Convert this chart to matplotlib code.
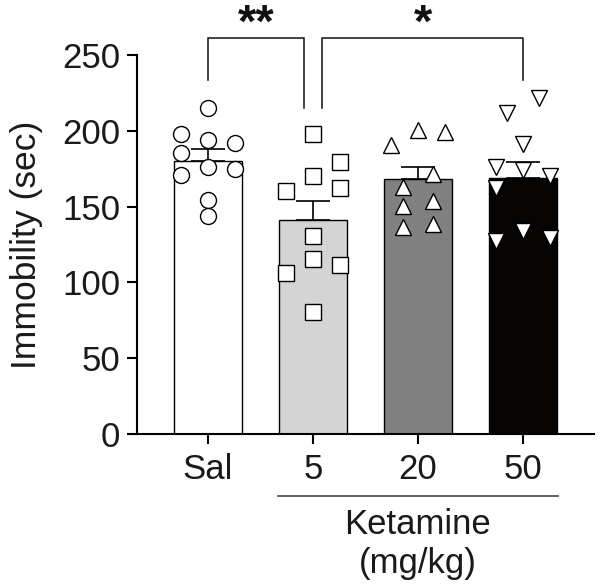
import matplotlib
matplotlib.use("Agg")
import matplotlib.pyplot as plt

plt.rcParams["font.family"] = ["Liberation Sans", "DejaVu Sans"]

# ---- data ----
groups = ["Sal", "5", "20", "50"]
means = [180, 141, 168, 169]
sems = [8, 12.5, 8, 10.5]

sal_pts = [215, 198, 194, 192, 185.5, 176, 175, 171, 154.4, 143.6]
k5_pts = [198, 179.4, 170, 162.3, 160.5, 130.7, 115.6, 106.4, 111.2, 80.5]
k20_pts = [200.4, 199.5, 190.6, 171.5, 162.7, 150.7, 154, 136.8, 138.2]
k50_pts = [221.5, 211.6, 191, 175.9, 174, 170, 162.3, 134.2, 127.2, 129.2]

# ---- layout: horizontal spread of the dots (in dot columns) ----
sal_cols = [0, -1, 0, 1, -1, 0, 1, -1, 0, 0]
k5_cols = [0, 1, 0, 1, -1, 0, 0, -1, 1, 0]
k20_cols = [0, 1, -1, 0.55, -0.55, -0.55, 0.55, -0.55, 0.55]
k50_cols = [0.6, -0.6, 0, -1, 0, 1, -1, 0, -1, 1]

bar_cols = ["#FFFFFF", "#D4D4D4", "#808080", "#070404"]
markers = ["o", "s", "^", "v"]
msizes = [11.5, 11, 11.5, 11.5]
STEP = 0.257
INK = "#1a1a1a"

fig = plt.figure(figsize=(6.0, 5.88), dpi=100)
ax = fig.add_axes([0.2283, 0.2619, 0.7617, 0.6446])

xs = range(len(groups))
ax.bar(xs, means, width=0.65, color=bar_cols, edgecolor="black",
       linewidth=1.0, zorder=1)
for x, m, s in zip(xs, means, sems):
    ax.errorbar([x], [m], yerr=[[0], [s]], fmt="none", ecolor="black",
                elinewidth=1.2, capsize=12, capthick=1.2, zorder=2)

for x, pts, cols, mk, ms in zip(xs, [sal_pts, k5_pts, k20_pts, k50_pts],
                                [sal_cols, k5_cols, k20_cols, k50_cols],
                                markers, msizes):
    ax.plot([x + c * STEP for c in cols], pts, ls="none", marker=mk, ms=ms,
            mfc="white", mec="black", mew=1.0, zorder=3, clip_on=False)

ax.set_xlim(-0.676, 3.676)
ax.set_ylim(0, 250)
ax.set_yticks([0, 50, 100, 150, 200, 250])
ax.set_xticks(list(xs))
ax.set_xticklabels(groups)
ax.tick_params(axis="both", labelsize=25, width=1.5, length=7, color="black",
               labelcolor=INK)
ax.tick_params(axis="y", pad=5)
ax.tick_params(axis="x", pad=7)
for side in ("top", "right"):
    ax.spines[side].set_visible(False)
for side in ("left", "bottom"):
    ax.spines[side].set_linewidth(1.5)
ax.set_ylabel("Immobility (sec)", fontsize=25.5, color=INK, labelpad=14)

# significance brackets
def bracket(x0, x1, y0, y1, top, label):
    ax.plot([x0, x0, x1, x1], [y0, top, top, y1], color="#222222", lw=1.2,
            clip_on=False)
    ax.text((x0 + x1) / 2, top + 9, label, ha="center", va="center",
            fontsize=34, fontweight="bold", color="#111111")

bracket(0.0, 0.91, 233.5, 215, 261, "**")
bracket(1.09, 3.0, 215, 233.5, 261, "*")

# Ketamine group label under the axis
ax.plot([0.67, 3.33], [-41, -41], color="#555555", lw=1.3, clip_on=False)
ax.text(2.0, -49, "Ketamine\n(mg/kg)", ha="center", va="top", fontsize=25,
        color=INK, linespacing=1.22)

fig.savefig("out.png", dpi=100)
